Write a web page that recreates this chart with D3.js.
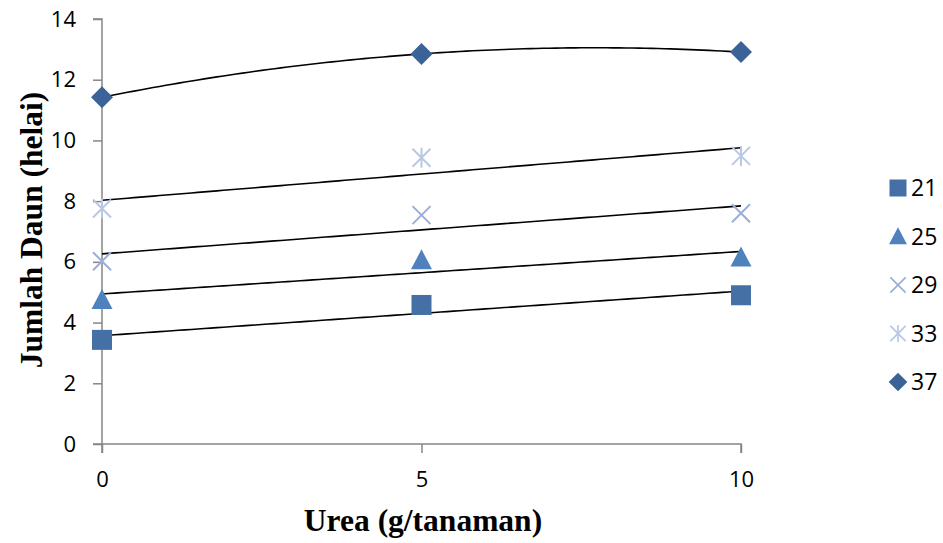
<!DOCTYPE html>
<html><head><meta charset="utf-8">
<script src="https://cdn.jsdelivr.net/npm/d3@7"></script>
<style>html,body{margin:0;padding:0;background:#fff;}</style>
</head><body>
<svg id="c" width="943" height="543"></svg>
<script>
const xValues = [0, 5, 10];
const seriesNames = ["21", "25", "29", "33", "37"];
const s21 = [3.43, 4.58, 4.90];
const s25 = [4.74, 6.05, 6.14];
const s29 = [6.02, 7.54, 7.60];
const s33 = [7.76, 9.43, 9.49];
const s37 = [11.42, 12.85, 12.91];
const yTicks = [0, 2, 4, 6, 8, 10, 12, 14];
const xTicks = [0, 5, 10];
const seriesValues = [s21, s25, s29, s33, s37];
const trendTypes = ["linear", "linear", "linear", "linear", "poly2"];

const colors = ["#4470a6", "#4f81bd", "#9aaed6", "#b8c8e4", "#3b6397"];
const shapes = ["square", "triangle", "x", "asterisk", "diamond"];

const svg = d3.select("#c");
const x = d3.scaleLinear().domain([0, 10]).range([102, 741]);
const y = d3.scaleLinear().domain([0, 14]).range([444, 19]);

const axisColor = "#868686";
const tickFont = "'Open Sans', 'Liberation Sans', sans-serif";

const yAxis = svg.append("g").attr("transform", `translate(${x(0)},0)`)
  .call(d3.axisLeft(y).tickValues(yTicks).tickSize(9).tickPadding(17).tickFormat(d3.format("d")));
const xAxis = svg.append("g").attr("transform", `translate(0,${y(0)})`)
  .call(d3.axisBottom(x).tickValues(xTicks).tickSize(9).tickPadding(18).tickFormat(d3.format("d")));
[yAxis, xAxis].forEach(g => {
  g.select(".domain").attr("stroke", axisColor).attr("stroke-width", 1.5);
  g.selectAll(".tick line").attr("stroke", axisColor).attr("stroke-width", 1.5);
  g.selectAll(".tick text").attr("fill", "#000").style("font-family", tickFont).style("font-size", "22px");
});
xAxis.select(".domain").attr("d", `M${x(0)},9V0H${x(10)}V9`);
yAxis.select(".domain").attr("d", `M-9,${y(14)}H0V${y(0)}H-9`);

function linFit(xs, ys) {
  const mx = d3.mean(xs), my = d3.mean(ys);
  let num = 0, den = 0;
  xs.forEach((xi, i) => { num += (xi - mx) * (ys[i] - my); den += (xi - mx) ** 2; });
  const b = num / den, a = my - b * mx;
  return t => a + b * t;
}
function poly2Fit(xs, ys) {
  return t => {
    let s = 0;
    for (let i = 0; i < 3; i++) {
      let l = 1;
      for (let j = 0; j < 3; j++) if (j !== i) l *= (t - xs[j]) / (xs[i] - xs[j]);
      s += ys[i] * l;
    }
    return s;
  };
}
const line = d3.line().x(d => x(d[0])).y(d => y(d[1]));
seriesValues.forEach((vals, i) => {
  const f = trendTypes[i] === "linear" ? linFit(xValues, vals) : poly2Fit(xValues, vals);
  const pts = d3.range(0, 10.001, 0.1).map(t => [t, f(t)]);
  svg.append("path").attr("d", line(pts)).attr("fill", "none")
    .attr("stroke", "#000").attr("stroke-width", 1.6);
});

function drawMarker(g, shape, color, cx, cy) {
  if (shape === "square") {
    g.append("rect").attr("x", cx - 10).attr("y", cy - 10).attr("width", 20).attr("height", 20).attr("fill", color);
  } else if (shape === "triangle") {
    g.append("path").attr("d", `M${cx},${cy - 11}L${cx + 10.5},${cy + 9}L${cx - 10.5},${cy + 9}Z`).attr("fill", color);
  } else if (shape === "diamond") {
    g.append("path").attr("d", `M${cx},${cy - 11}L${cx + 11},${cy}L${cx},${cy + 11}L${cx - 11},${cy}Z`).attr("fill", color);
  } else if (shape === "x") {
    g.append("path").attr("d", `M${cx - 9},${cy - 9}L${cx + 9},${cy + 9}M${cx - 9},${cy + 9}L${cx + 9},${cy - 9}`)
      .attr("stroke", color).attr("stroke-width", 2).attr("fill", "none");
  } else if (shape === "asterisk") {
    g.append("path").attr("d", `M${cx - 9},${cy - 9}L${cx + 9},${cy + 9}M${cx - 9},${cy + 9}L${cx + 9},${cy - 9}M${cx},${cy - 10}L${cx},${cy + 10}`)
      .attr("stroke", color).attr("stroke-width", 2).attr("fill", "none");
  }
}
seriesValues.forEach((vals, i) => {
  const g = svg.append("g");
  vals.forEach((v, j) => drawMarker(g, shapes[i], colors[i], x(xValues[j]), y(v)));
});

const legendY = d3.scaleLinear().domain([0, 4]).range([188, 382]);
seriesNames.forEach((name, i) => {
  const g = svg.append("g");
  const ly = legendY(i);
  const gg = g.append("g").attr("transform", `translate(898,${ly}) scale(0.85)`);
  drawMarker(gg, shapes[i], colors[i], 0, 0);
  g.append("text").attr("x", 911).attr("y", ly).attr("dy", "0.36em")
    .style("font-family", tickFont).style("font-size", "23px").attr("fill", "#000").text(name);
});

const titleFont = "'Liberation Serif', 'Times New Roman', serif";
svg.append("text").attr("x", 423).attr("y", 531).attr("text-anchor", "middle")
  .style("font-family", titleFont).style("font-weight", "bold").style("font-size", "31.5px").text("Urea (g/tanaman)");
svg.append("text").attr("transform", "translate(42,230) rotate(-90)").attr("text-anchor", "middle")
  .style("font-family", titleFont).style("font-weight", "bold").style("font-size", "31.5px").text("Jumlah Daun (helai)");
</script>
</body></html>
